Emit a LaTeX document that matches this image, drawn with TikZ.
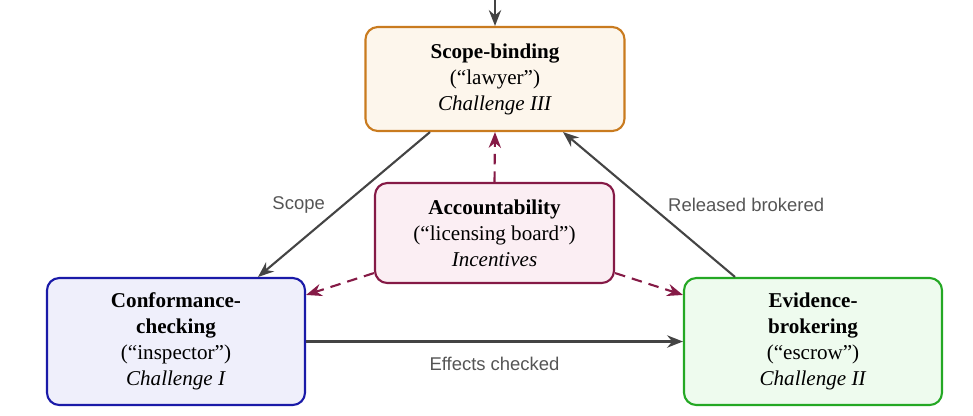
\documentclass[tikz,border=0pt]{standalone}
\usepackage{fontspec}
\setmainfont{Liberation Serif}
\setsansfont{Liberation Sans}
\usepackage{tikz}
\usetikzlibrary{arrows.meta, positioning}

\definecolor{scopeline}{HTML}{C97B1F}
\definecolor{scopefill}{HTML}{FDF6EC}
\definecolor{accline}{HTML}{851A46}
\definecolor{accfill}{HTML}{FBEEF3}
\definecolor{confline}{HTML}{1A1AA8}
\definecolor{conffill}{HTML}{EFEFFB}
\definecolor{evidline}{HTML}{24A824}
\definecolor{evidfill}{HTML}{EEFBEE}
\definecolor{flowgray}{HTML}{444444}
\definecolor{labelgray}{HTML}{555555}

\begin{document}
\begin{tikzpicture}[
    rolebox/.style={rectangle, draw, rounded corners=7pt, line width=1.2pt, align=center, font=\fontsize{12}{14.8}\selectfont},
    flow/.style={-{Stealth[length=9pt, width=7pt]}, line width=1.2pt, draw=flowgray},
    oversee/.style={-{Stealth[length=9pt, width=7pt]}, line width=1.2pt, draw=accline, dash pattern=on 6pt off 4pt},
    flowlabel/.style={font=\sffamily\fontsize{10.5}{12}\selectfont, text=labelgray}
  ]
    \useasboundingbox (0,0) rectangle (19.46,-8.3);

    % Top role - scope binding
    \node[rolebox, draw=scopeline, fill=scopefill, minimum width=5.18cm, minimum height=2.08cm] (scope) at (9.9,-1.58) {
      \textbf{Scope-binding}\\
      (“lawyer”)\\
      \textit{Challenge III}
    };

    % Middle - accountability
    \node[rolebox, draw=accline, fill=accfill, minimum width=4.78cm, minimum height=2.0cm] (acc) at (9.89,-4.66) {
      \textbf{Accountability}\\
      (“licensing board”)\\
      \textit{Incentives}
    };

    % Bottom left - conformance checking
    \node[rolebox, draw=confline, fill=conffill, minimum width=5.16cm, minimum height=2.54cm] (conf) at (3.52,-6.83) {
      \textbf{Conformance-}\\
      \textbf{checking}\\
      (“inspector”)\\
      \textit{Challenge I}
    };

    % Bottom right - evidence brokering
    \node[rolebox, draw=evidline, fill=evidfill, minimum width=5.16cm, minimum height=2.54cm] (evid) at (16.26,-6.83) {
      \textbf{Evidence-}\\
      \textbf{brokering}\\
      (“escrow”)\\
      \textit{Challenge II}
    };

    % Incoming arrow from above
    \coordinate (entry) at (9.9,0);
    \draw[flow] (entry) -- (scope.north);

    % Scope to conformance
    \draw[flow] ([xshift=-1.3cm]scope.south) -- ([xshift=1.64cm]conf.north)
      node[flowlabel, midway, left=7pt] (scopelbl) {Scope};

    % Evidence back to scope
    \draw[flow] ([xshift=-1.56cm]evid.north) -- ([xshift=1.36cm]scope.south)
      node[flowlabel, midway, right=7pt] (releaselbl) {Released brokered};

    % Conformance to evidence
    \draw[flow] (conf.east |- conf.center) -- (evid.west |- conf.center)
      node[flowlabel, midway, below=5pt] (effectlbl) {Effects checked};

    % Accountability oversees the three roles
    \draw[oversee] (acc.north) -- (scope.south);
    \draw[oversee] ([yshift=0.22cm]acc.south west) -- ([yshift=-0.36cm]conf.north east);
    \draw[oversee] ([yshift=0.22cm]acc.south east) -- ([yshift=-0.36cm]evid.north west);
  \end{tikzpicture}
\end{document}
